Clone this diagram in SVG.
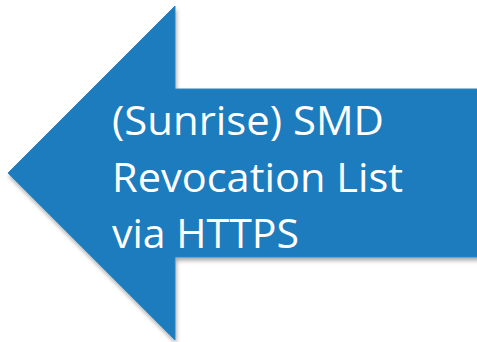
<svg xmlns="http://www.w3.org/2000/svg" width="477" height="342" viewBox="0 0 477 342">
  <defs>
    <filter id="shadow" x="-10%" y="-10%" width="120%" height="130%">
      <feGaussianBlur in="SourceAlpha" stdDeviation="2"/>
      <feOffset dx="1" dy="3" result="b"/>
      <feComponentTransfer><feFuncA type="linear" slope="0.35"/></feComponentTransfer>
      <feMerge><feMergeNode/><feMergeNode in="SourceGraphic"/></feMerge>
    </filter>
    <style>
      .label { font-family: "Open Sans", "Liberation Sans", sans-serif; font-size: 41px; fill: #ffffff; }
    </style>
  </defs>
  <rect width="477" height="342" fill="#ffffff"/>
  <g id="arrow">
    <polygon points="8,173 175,6 175,89 480,89 480,257 175,257 175,340" fill="#1a7bbd" stroke="#2a86c4" stroke-width="1" filter="url(#shadow)"/>
    <text class="label" x="112" y="135" textLength="272" lengthAdjust="spacingAndGlyphs">(Sunrise) SMD</text>
    <text class="label" x="112" y="192" textLength="291" lengthAdjust="spacingAndGlyphs">Revocation List</text>
    <text class="label" x="112" y="248" textLength="187" lengthAdjust="spacingAndGlyphs">via HTTPS</text>
  </g>
</svg>
